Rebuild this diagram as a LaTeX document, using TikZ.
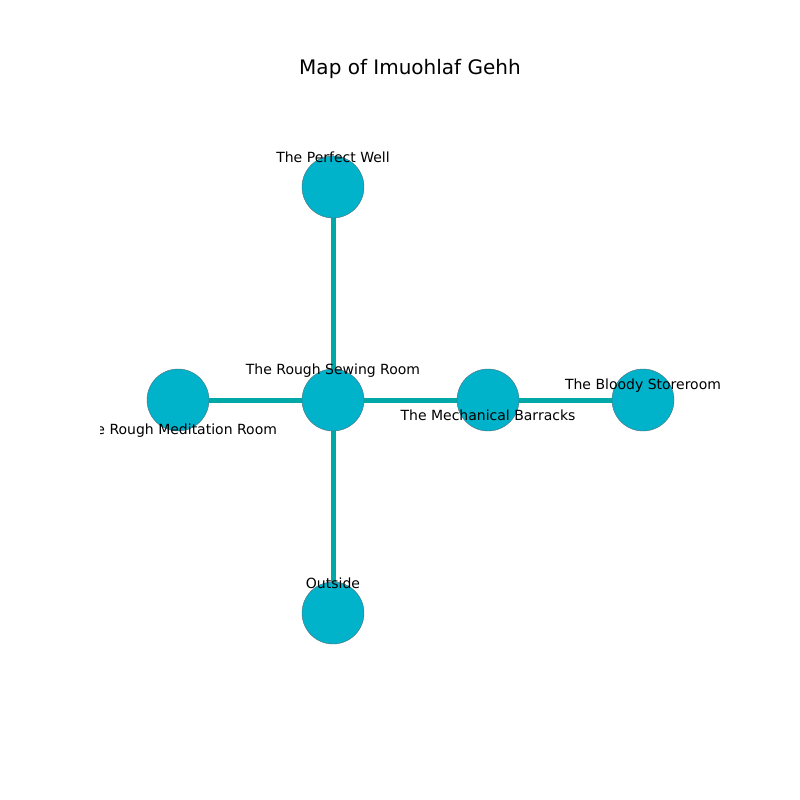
\documentclass[tikz,border=0pt]{standalone}
\usepackage{fontspec}
\setmainfont{DejaVu Sans}
\definecolor{nodefill}{RGB}{0,178,202}
\definecolor{edgecol}{RGB}{0,168,168}
\definecolor{rimcol}{RGB}{80,110,120}
\begin{document}
\begin{tikzpicture}[x=1pt,y=-1pt,
  room/.style={circle,fill=nodefill,draw=rimcol,line width=0.4pt,minimum size=62pt,inner sep=0pt},
  link/.style={edgecol,line width=5pt},
  lbl/.style={font=\fontsize{14}{16}\selectfont,inner sep=0pt,anchor=center}]
\useasboundingbox (0,0) rectangle (800,800);
\node[font=\fontsize{20}{24}\selectfont] (title) at (410,68.5) {Map of Imuohlaf Gehh};
\coordinate (cw) at (333,187);
\coordinate (cm) at (178,400);
\coordinate (cs) at (333,400);
\coordinate (cb) at (488,400);
\coordinate (cst) at (643,400);
\coordinate (co) at (333,613);
\draw[link] (cs) -- (cw);
\draw[link] (cs) -- (cm);
\draw[link] (cs) -- (cb);
\draw[link] (cb) -- (cst);
\draw[link] (cs) -- (co);
\node[room] (well) at (cw) {};
\node[room] (medit) at (cm) {};
\node[room] (sew) at (cs) {};
\node[room] (barr) at (cb) {};
\node[room] (store) at (cst) {};
\node[room] (out) at (co) {};
\begin{scope}
\clip (100,88) rectangle (720,712);
\node[lbl] (lwell) at (333,157.5) {The Perfect Well};
\node[lbl] (lsew) at (333,370.5) {The Rough Sewing Room};
\node[lbl] (lmedit) at (178,430.5) {The Rough Meditation Room};
\node[lbl] (lbarr) at (488,415.5) {The Mechanical Barracks};
\node[lbl] (lstore) at (643,385.5) {The Bloody Storeroom};
\node[lbl] (lout) at (333,583.5) {Outside};
\end{scope}
\end{tikzpicture}
\end{document}
